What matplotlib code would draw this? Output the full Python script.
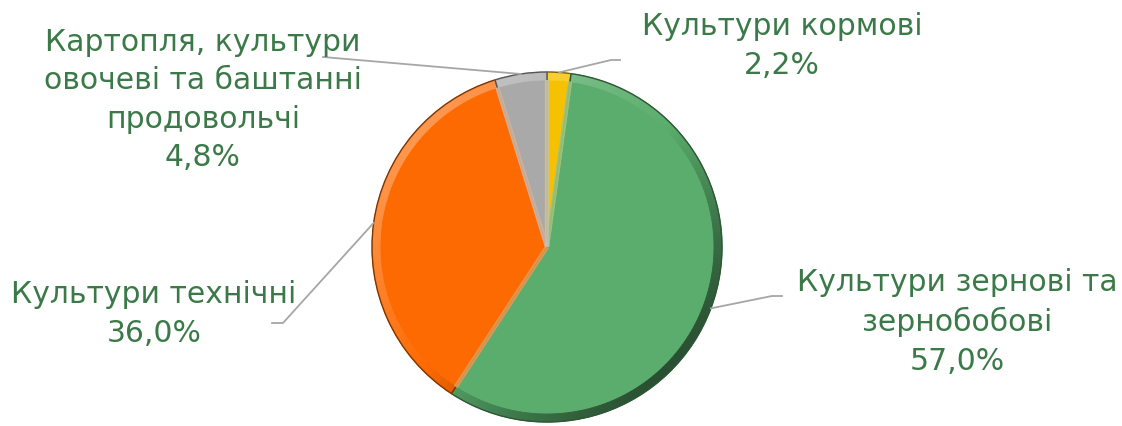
import matplotlib.pyplot as plt
import matplotlib.colors as mcolors
from matplotlib.patches import Wedge
import numpy as np

# data (clockwise from the top)
labels = ["Культури кормові", "Культури зернові та\nзернобобові",
          "Культури технічні", "Картопля, культури\nовочеві та баштанні\nпродовольчі"]
shares = [2.2, 57.0, 36.0, 4.8]
colors = ["#f6c100", "#5aad6c", "#fd6a02", "#a9a9a9"]

# label layout: text centre and leader elbow (in pixels, y from top)
text_pos = [(782, 46), (957, 322), (154, 314), (203, 100)]
elbows = [(611, 60), (772, 296), (283, 323), (323, 57)]
line_ends = [(620, 60), (782, 296), (272, 323), (323, 57)]

W, H = 1122, 426
cx, cy, R = 547, H - 247, 175
txt_color = "#3b7a48"

fig = plt.figure(figsize=(W / 100, H / 100), dpi=100)
ax = fig.add_axes([0, 0, 1, 1])

wedges, _ = ax.pie(shares, colors=colors, startangle=90, counterclock=False,
                   center=(cx, cy), radius=R, frame=True,
                   wedgeprops=dict(linewidth=0))

# bevel shading round each slice
def shade(c, f):
    rgb = np.array(mcolors.to_rgb(c))
    if f >= 0:
        return tuple(rgb + (1 - rgb) * f)
    return tuple(rgb * (1 + f))

for w, c in zip(wedges, colors):
    t1, t2 = w.theta1, w.theta2
    angs = np.linspace(t1, t2, max(int((t2 - t1) / 1.5), 2) + 1)
    for a0, a1 in zip(angs[:-1], angs[1:]):
        m = np.radians((a0 + a1) / 2)
        f = 0.3 * np.cos(m - np.radians(135))
        f = f if f > 0 else f * 1.8
        col = shade(c, f)
        ax.add_patch(Wedge((cx, cy), R, a0, a1, width=8, facecolor=col,
                           edgecolor=col, lw=0.6))
    # soft highlight along the radial edges
    for t in (t1, t2):
        r = np.radians(t)
        ax.plot([cx, cx + (R - 8) * np.cos(r)], [cy, cy + (R - 8) * np.sin(r)],
                color=shade(c, 0.25), lw=3, solid_capstyle="butt", alpha=0.7)
    ax.add_patch(Wedge((cx, cy), R, t1, t2, fill=False,
                       edgecolor=shade(c, -0.5), lw=1.0))

# labels and leader lines
for w, lab, v, tp, el, le in zip(wedges, labels, shares, text_pos, elbows, line_ends):
    mid = np.radians((w.theta1 + w.theta2) / 2)
    sx, sy = cx + R * np.cos(mid), cy + R * np.sin(mid)
    ax.plot([sx, el[0], le[0]], [sy, H - el[1], H - le[1]], color="#a6a6a6", lw=1.3)
    txt = lab + "\n" + f"{v:.1f}%".replace(".", ",")
    ax.text(tp[0], H - tp[1], txt, ha="center", va="center", fontsize=21.5,
            color=txt_color, linespacing=1.4, family="DejaVu Sans")

ax.set_xlim(0, W)
ax.set_ylim(0, H)
ax.set_aspect("equal")
ax.axis("off")

fig.savefig("out.png", dpi=100)
